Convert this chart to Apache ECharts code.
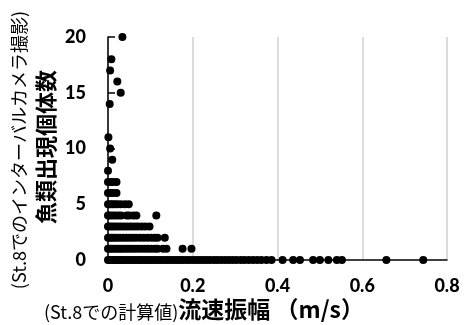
<!DOCTYPE html>
<html><head><meta charset="utf-8">
<script src="https://cdn.jsdelivr.net/npm/echarts@6/dist/echarts.min.js"></script>
<style>html,body{margin:0;padding:0;background:#fff}#c{width:464px;height:325px}</style>
</head><body><div id="c"></div>
<script>
// Fish count levels (y) and the flow-amplitude values (x, m/s) observed at each level
const countLevels = [0, 1, 2, 3, 4, 5, 6, 7, 8, 9, 10, 11, 14, 15, 16, 17, 18, 20];
const amplitudesByLevel = [
  [0, 0.004, 0.008, 0.012, 0.017, 0.021, 0.026, 0.031, 0.036, 0.041, 0.047, 0.052, 0.058, 0.063, 0.069, 0.075, 0.08, 0.086, 0.092, 0.098, 0.104, 0.11, 0.117, 0.123, 0.13, 0.137, 0.143, 0.15, 0.157, 0.164, 0.171, 0.178, 0.186, 0.193, 0.201, 0.209, 0.217, 0.225, 0.233, 0.241, 0.25, 0.258, 0.267, 0.276, 0.285, 0.294, 0.303, 0.313, 0.322, 0.332, 0.342, 0.352, 0.362, 0.374, 0.386, 0.412, 0.437, 0.453, 0.484, 0.5, 0.52, 0.54, 0.552, 0.657, 0.744],
  [0, 0.005, 0.01, 0.016, 0.022, 0.028, 0.034, 0.041, 0.048, 0.055, 0.062, 0.07, 0.078, 0.086, 0.094, 0.102, 0.11, 0.117, 0.13, 0.138, 0.176, 0.197],
  [0, 0.005, 0.01, 0.016, 0.022, 0.029, 0.036, 0.043, 0.05, 0.058, 0.066, 0.075, 0.084, 0.093, 0.102, 0.11, 0.117, 0.134],
  [0, 0.005, 0.011, 0.017, 0.024, 0.031, 0.038, 0.046, 0.054, 0.062, 0.07, 0.079, 0.088, 0.098],
  [0, 0.005, 0.011, 0.017, 0.024, 0.031, 0.044, 0.05, 0.06, 0.067, 0.114],
  [0, 0.005, 0.01, 0.016, 0.022, 0.03, 0.04, 0.049],
  [0, 0.006, 0.012, 0.02],
  [0, 0.006, 0.012, 0.02],
  [0],
  [0.01],
  [0.005],
  [0.001],
  [0.004],
  [0.03],
  [0.022],
  [0.005],
  [0.008],
  [0.034]
];
const xTicks = [0, 0.2, 0.4, 0.6, 0.8];
const yTicks = [0, 5, 10, 15, 20];
const xNameSmall = '(St.8での計算値)';
const xNameBold = '流速振幅 （m/s）';
const yNameSmall = '(St.8でのインターバルカメラ撮影)';
const yNameBold = '魚類出現個体数';

const points = [];
countLevels.forEach((lv, i) => amplitudesByLevel[i].forEach(x => points.push([x, lv])));

const numFont = 'Lato, "Noto Sans", sans-serif';
const cjk = '"Noto Sans CJK JP", "Noto Sans", sans-serif';

const chart = echarts.init(document.getElementById('c'));
chart.setOption({
  animation: false,
  grid: {left: 108, right: 17, top: 37, bottom: 65},
  xAxis: {
    type: 'value', min: xTicks[0], max: xTicks[xTicks.length - 1], interval: 0.2,
    axisLine: {show: true, lineStyle: {color: '#000', width: 1.5}},
    axisTick: {show: false},
    splitLine: {show: true, lineStyle: {color: '#d0d0d0', width: 1.5}},
    axisLabel: {color: '#000', fontSize: 18, fontWeight: 900, fontFamily: numFont, margin: 17,
      formatter: v => String(+v.toFixed(1))}
  },
  yAxis: {
    type: 'value', min: yTicks[0], max: yTicks[yTicks.length - 1], interval: 5,
    axisLine: {show: true, lineStyle: {color: '#000', width: 1.5}},
    axisTick: {show: true, inside: true, length: 7, lineStyle: {color: '#000', width: 1.5}},
    splitLine: {show: false},
    axisLabel: {color: '#000', fontSize: 18, fontWeight: 900, fontFamily: numFont, margin: 22}
  },
  series: [{
    type: 'scatter', data: points, symbol: 'circle', symbolSize: 8, clip: false,
    itemStyle: {color: '#000', opacity: 1}
  }],
  graphic: [
    {type: 'text', left: 44, top: 298, style: {
      text: '{s|' + xNameSmall + '}{b|' + xNameBold + '}',
      rich: {
        s: {fontSize: 18, fontFamily: cjk, fill: '#000', verticalAlign: 'bottom'},
        b: {fontSize: 23, fontWeight: 'bold', fontFamily: cjk, fill: '#000', verticalAlign: 'bottom'}
      }}},
    {type: 'text', x: 19, y: 150, rotation: Math.PI / 2, style: {
      text: yNameSmall, fontSize: 18, fontFamily: cjk, fill: '#000', align: 'center', verticalAlign: 'middle'}},
    {type: 'text', x: 46, y: 147, rotation: Math.PI / 2, style: {
      text: yNameBold, fontSize: 22, fontWeight: 'bold', fontFamily: cjk, fill: '#000', align: 'center', verticalAlign: 'middle'}}
  ]
});
</script></body></html>
